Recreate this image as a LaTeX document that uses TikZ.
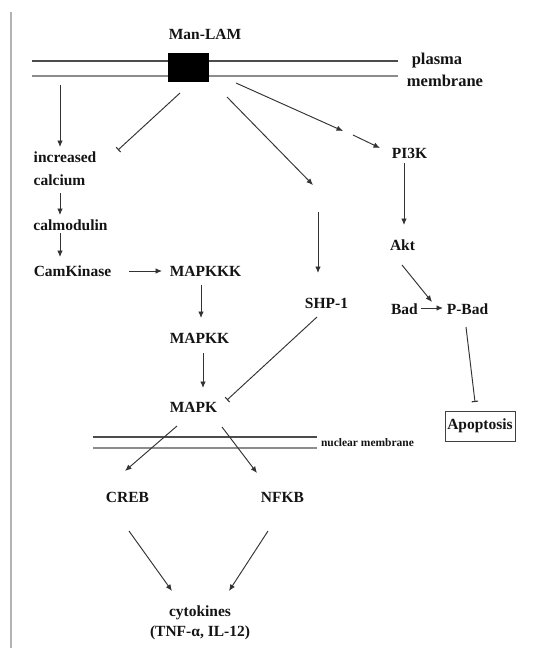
\documentclass[tikz,border=0pt]{standalone}
\usepackage{fontspec}
\setmainfont{Liberation Serif}
\usetikzlibrary{arrows.meta}
\begin{document}
\begin{tikzpicture}[x=1pt,y=-1pt,
  lbl/.style={font=\bfseries\fontsize{15.5}{23}\selectfont, text=black!92, inner sep=0pt},
  conn/.style={draw=black!80, line width=0.95pt},
  arr/.style={conn, -{Latex[length=6.5pt,width=5.5pt]}},
  inh/.style={conn, -{Bar[width=6.5pt,line width=1.1pt]}},
  memdark/.style={draw=black!70, line width=1.9pt},
  memlight/.style={draw=black!45, line width=1.9pt}]
\useasboundingbox (0,0) rectangle (553,648);
\draw[draw=black!30, line width=1.4pt] (11,12) -- (11,648);
% plasma membrane
\coordinate (pmL1) at (32,61); \coordinate (pmR1) at (398,61);
\coordinate (pmL2) at (32,76); \coordinate (pmR2) at (398,76);
\draw[memdark] (pmL1) -- (pmR1);
\draw[memlight] (pmL2) -- (pmR2);
\node[fill=black, minimum width=41pt, minimum height=29pt, inner sep=0pt] (box) at (188.5,67.5) {};
\node[lbl] (manlam) at (205,34) {Man-LAM};
\node[lbl, font=\bfseries\fontsize{16.5}{20}\selectfont] (plasma) at (437,61) {plasma};
\node[lbl, font=\bfseries\fontsize{16.5}{20}\selectfont] (membrane) at (445,81) {membrane};
% nuclear membrane
\coordinate (nmL1) at (93,437); \coordinate (nmR1) at (317,437);
\coordinate (nmL2) at (93,448); \coordinate (nmR2) at (317,448);
\draw[memdark, line width=1.5pt] (nmL1) -- (nmR1);
\draw[memlight, line width=1.5pt] (nmL2) -- (nmR2);
\node[lbl, font=\bfseries\fontsize{11.5}{14}\selectfont] (nuc) at (367.5,443) {nuclear membrane};
% nodes
\node[lbl, align=left] (incr) at (65,168.5) {increased\\calcium};
\node[lbl] (calm) at (70.5,225) {calmodulin};
\node[lbl] (camk) at (72.5,271) {CamKinase};
\node[lbl] (mapkkk) at (205.5,271) {MAPKKK};
\node[lbl] (mapkk) at (199.5,338) {MAPKK};
\node[lbl] (mapk) at (193.5,407) {MAPK};
\node[lbl] (shp) at (326.5,303) {SHP-1};
\node[lbl] (pi3k) at (409.5,153) {PI3K};
\node[lbl] (akt) at (402.5,245) {Akt};
\node[lbl] (bad) at (404.5,309) {Bad};
\node[lbl] (pbad) at (467.5,309) {P-Bad};
\node[lbl, draw=black!75, line width=0.9pt, minimum width=70pt, minimum height=30pt] (apop) at (480,426) {Apoptosis};
\node[lbl] (creb) at (127.5,497) {CREB};
\node[lbl] (nfkb) at (282.5,497) {NFKB};
\node[lbl, align=center, font=\bfseries\fontsize{15.5}{20}\selectfont] (cyto) at (200,623) {cytokines\\(TNF-α, IL-12)};
% connector endpoints
\coordinate (a1s) at (60,85);   \coordinate (a1e) at (60,147);
\coordinate (a2s) at (180,93);  \coordinate (a2e) at (118,150);
\coordinate (a3s) at (227,97);  \coordinate (a3e) at (313,185);
\coordinate (a4s) at (236,83);  \coordinate (a4m) at (343,131);
\coordinate (a4n) at (353,135); \coordinate (a4e) at (380,148);
\coordinate (a5s) at (404,163); \coordinate (a5e) at (404,225);
\coordinate (a6s) at (318,212); \coordinate (a6e) at (318,273);
\coordinate (a7s) at (60,193);  \coordinate (a7e) at (60,215);
\coordinate (a8s) at (60,233);  \coordinate (a8e) at (60,257);
\coordinate (a9s) at (129,271); \coordinate (a9e) at (162,271);
\coordinate (a10s) at (201,285); \coordinate (a10e) at (201,318);
\coordinate (a11s) at (203,353); \coordinate (a11e) at (203,388);
\coordinate (a12s) at (317,317); \coordinate (a12e) at (227,400);
\coordinate (a13s) at (402,265); \coordinate (a13e) at (432,302);
\coordinate (a14s) at (421,308); \coordinate (a14e) at (443,308);
\coordinate (a15s) at (466,327); \coordinate (a15e) at (475,402);
\coordinate (a16s) at (177,426); \coordinate (a16e) at (125,471);
\coordinate (a17s) at (222,427); \coordinate (a17e) at (257,473);
\coordinate (a18s) at (129,531); \coordinate (a18e) at (172,591);
\coordinate (a19s) at (268,531); \coordinate (a19e) at (229,591);
% connectors
\draw[arr] (a1s) -- (a1e);
\draw[inh] (a2s) -- (a2e);
\draw[arr] (a3s) -- (a3e);
\draw[arr] (a4s) -- (a4m);
\draw[arr] (a4n) -- (a4e);
\draw[arr] (a5s) -- (a5e);
\draw[arr] (a6s) -- (a6e);
\draw[arr] (a7s) -- (a7e);
\draw[arr] (a8s) -- (a8e);
\draw[arr] (a9s) -- (a9e);
\draw[arr] (a10s) -- (a10e);
\draw[arr] (a11s) -- (a11e);
\draw[inh] (a12s) -- (a12e);
\draw[arr] (a13s) -- (a13e);
\draw[arr] (a14s) -- (a14e);
\draw[inh] (a15s) -- (a15e);
\draw[arr] (a16s) -- (a16e);
\draw[arr] (a17s) -- (a17e);
\draw[arr] (a18s) -- (a18e);
\draw[arr] (a19s) -- (a19e);
\end{tikzpicture}
\end{document}
